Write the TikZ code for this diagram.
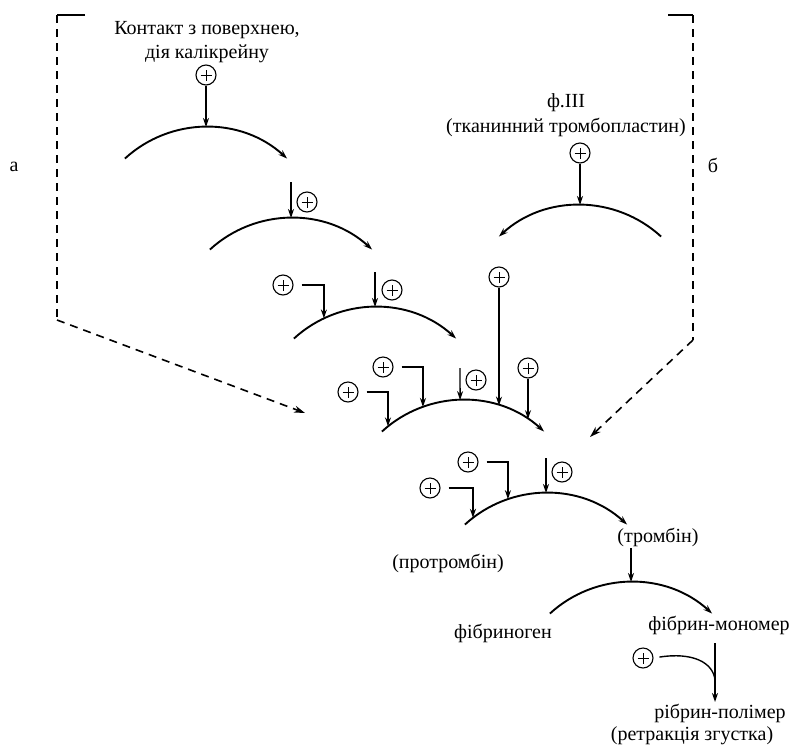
\documentclass[tikz,border=0pt]{standalone}
\usepackage{fontspec}
\setmainfont{Liberation Serif}
\newfontfamily\schemefont{Liberation Serif}
\usetikzlibrary{arrows.meta,calc}
\begin{document}
\begin{tikzpicture}[x=1pt,y=-1pt,
  reaction/.style={line width=1.9pt,-{Stealth[length=9pt,width=6pt]}},
  backreaction/.style={line width=1.9pt,{Stealth[length=9pt,width=6pt]}-},
  feed/.style={line width=1.4pt,-{Stealth[length=9pt,width=6pt]}},
  hook/.style={feed,shorten <=8pt},
  plus/.style={circle,draw,line width=1.1pt,minimum size=20pt,inner sep=0pt,
    path picture={\draw[line width=0.7pt]
      ([xshift=-5.5pt]path picture bounding box.center) -- ([xshift=5.5pt]path picture bounding box.center)
      ([yshift=-5.5pt]path picture bounding box.center) -- ([yshift=5.5pt]path picture bounding box.center);}},
  lbl/.style={font=\schemefont\fontsize{20}{24.5}\selectfont,align=center,inner sep=0pt},
  bracket/.style={line width=1.6pt,dash pattern=on 8pt off 6pt},
  bracketarrow/.style={bracket,-{Stealth[length=11pt,width=7pt]}},
]
\useasboundingbox (0,0) rectangle (803,745);

% --- texts ---
\node[lbl] (contact) at (207,42) {Контакт з поверхнею,\\дія калікрейну};
\node[lbl] (f3) at (566,115) {ф.III\\(тканинний тромбопластин)};
\node[lbl] (la) at (14,167) {а};
\node[lbl] (lb) at (713,165) {б};
\node[lbl] (thr) at (658,537) {(тромбін)};
\node[lbl] (pthr) at (448,563) {(протромбін)};
\node[lbl] (fbg) at (503,633) {фібриноген};
\node[lbl] (mono) at (719,625) {фібрин-мономер};
\node[lbl] (poly) at (720,713) {рібрин-полімер};
\node[lbl] (retr) at (692,736) {(ретракція згустка)};

% --- dashed brackets ---
\coordinate (L0) at (85,15);
\coordinate (L1) at (57,15);
\coordinate (L2) at (57,320);
\coordinate (L3) at (305,413);
\draw[line width=1.6pt] (L0) -- (L1);
\draw[bracket] (L1) -- (L2);
\draw[bracketarrow] (L2) -- (L3);

\coordinate (R0) at (668,15);
\coordinate (R1) at (693,15);
\coordinate (R2) at (693,340);
\coordinate (R3) at (590,437);
\draw[line width=1.6pt] (R0) -- (R1);
\draw[bracket] (R1) -- (R2);
\draw[bracketarrow] (R2) -- (R3);

% --- arc centres (radius 120) ---
\coordinate (C1) at (206,247);
\coordinate (C2) at (291,338);
\coordinate (C3) at (375,427);
\coordinate (C4) at (463,520);
\coordinate (CF) at (580,325);
\coordinate (C5) at (546,613);
\coordinate (C6) at (631,702);

\foreach \c in {1,2,3,4,5,6}{
  \draw[reaction] ([shift={(-132.5:120)}]C\c) arc[start angle=-132.5,end angle=-47.5,radius=120];
  \coordinate (T\c) at ([shift={(-90:120)}]C\c);
}
\draw[backreaction] ([shift={(-132.5:120)}]CF) arc[start angle=-132.5,end angle=-47.5,radius=120];
\coordinate (TF) at ([shift={(-90:120)}]CF);

% --- step 1 ---
\node[plus] (p1) at (206,75) {};
\draw[feed] (p1) -- (T1);

% --- step 2 ---
\coordinate (s2) at (291,182);
\draw[feed,line width=2.2pt] (s2) -- (T2);
\node[plus] (p2) at (307,202) {};

% --- step 3 ---
\node[plus] (p3a) at (283,285) {};
\coordinate (a3a) at ([shift={(-115.2:120)}]C3);
\draw[hook] (p3a.east) -| (a3a);
\coordinate (s3) at (375,272);
\draw[feed] (s3) -- (T3);
\node[plus] (p3b) at (392,290) {};

% --- step 4 ---
\node[plus] (p4a) at (348,392) {};
\coordinate (a4a) at ([shift={(-128.7:120)}]C4);
\draw[hook] (p4a.east) -| (a4a);
\node[plus] (p4b) at (383,367) {};
\coordinate (a4b) at ([shift={(-109.5:120)}]C4);
\draw[hook] (p4b.east) -| (a4b);
\coordinate (s4) at (460,368);
\coordinate (a4c) at ([shift={(-91.4:120)}]C4);
\draw[feed] (s4) -- (a4c);
\node[plus] (p4c) at (476,380) {};
\node[plus] (p4d) at (499,277) {};
\coordinate (a4d) at ([shift={(-72.5:120)}]C4);
\draw[feed] (p4d) -- (p4d |- a4d);
\node[plus] (p4e) at (528,368) {};
\coordinate (a4e) at ([shift={(-57.2:120)}]C4);
\draw[feed] (p4e) -- (p4e |- a4e);

% --- tissue pathway ---
\node[plus] (pF) at (580,153) {};
\draw[feed] (pF) -- (TF);

% --- step 5 ---
\node[plus] (p5a) at (430,488) {};
\coordinate (a5a) at ([shift={(-127.5:120)}]C5);
\draw[hook] (p5a.east) -| (a5a);
\node[plus] (p5b) at (468,462) {};
\coordinate (a5b) at ([shift={(-108.5:120)}]C5);
\draw[hook] (p5b.east) -| (a5b);
\coordinate (s5) at (546,458);
\draw[feed] (s5) -- (T5);
\node[plus] (p5c) at (562,472) {};

% --- step 6 ---
\coordinate (s6) at (631,548);
\draw[feed] (s6) -- (T6);

% --- polymerisation ---
\coordinate (m1) at (715,643);
\coordinate (m2) at (715,702);
\draw[feed] (m1) -- (m2);
\node[plus] (p7) at (643,658) {};
\coordinate (j7) at (715,680);
\draw[line width=1.4pt,shorten <=6pt] (p7.east) .. controls (692,652) and (713,662) .. (j7);
\end{tikzpicture}
\end{document}
